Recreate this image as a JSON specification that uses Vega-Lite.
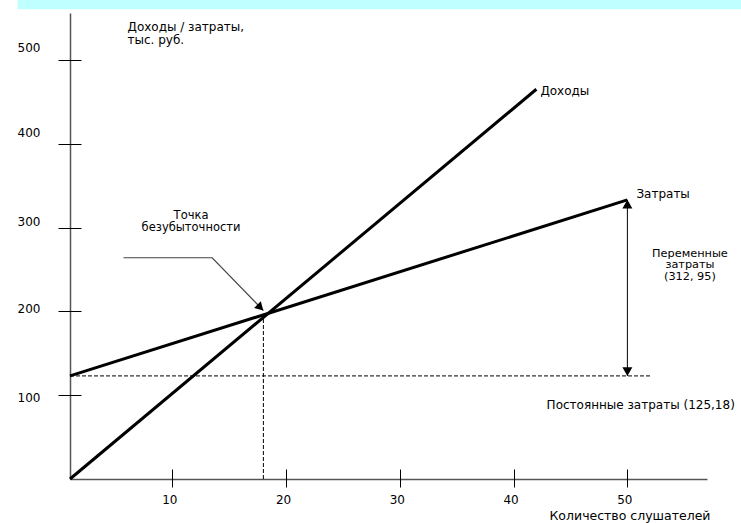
{
  "$schema": "https://vega.github.io/schema/vega-lite/v6.json",
  "width": 637,
  "height": 466,
  "autosize": {"type": "none"},
  "padding": {"left": 70, "top": 13, "right": 34, "bottom": 44},
  "background": "white",
  "config": {
    "font": "DejaVu Sans",
    "view": {"stroke": null},
    "axis": {"grid": false, "labelColor": "black", "titleColor": "black", "titleFontWeight": "normal", "labelFont": "DejaVu Sans", "titleFont": "DejaVu Sans", "labelFlush": false}
  },
  "datasets": {
    "band": [{"x": -3.6, "x2": 61, "y": 560.4, "y2": 572}],
    "lines": [
      {"series": "Доходы", "x": 1, "y": 0},
      {"series": "Доходы", "x": 42, "y": 465},
      {"series": "Затраты", "x": 1, "y": 123},
      {"series": "Затраты", "x": 50, "y": 333}
    ],
    "dashed": [
      {"id": "fixed", "o": 1, "x": 1, "y": 123},
      {"id": "fixed", "o": 2, "x": 52, "y": 123},
      {"id": "breakeven", "o": 1, "x": 18, "y": 0},
      {"id": "breakeven", "o": 2, "x": 18, "y": 197}
    ],
    "leader": [
      {"x": 5.7, "y": 264},
      {"x": 13.5, "y": 264},
      {"x": 18, "y": 201}
    ],
    "arrow": [{"x": 50, "y": 123, "y2": 333}]
  },
  "encoding": {
    "x": {"field": "x", "type": "quantitative", "scale": {"domain": [1, 57], "nice": false, "zero": false}, "axis": null},
    "y": {"field": "y", "type": "quantitative", "scale": {"domain": [0, 556], "nice": false, "zero": false}, "axis": null}
  },
  "layer": [
    {
      "data": {"name": "band"},
      "mark": {"type": "rect", "color": "#c0ffff", "clip": false, "opacity": 1},
      "encoding": {
        "x2": {"field": "x2"},
        "y2": {"field": "y2"}
      }
    },
    {
      "data": {"name": "lines"},
      "mark": {"type": "line", "color": "black", "strokeWidth": 3},
      "encoding": {
        "x": {
          "field": "x", "type": "quantitative",
          "scale": {"domain": [1, 57], "nice": false, "zero": false},
          "axis": {"orient": "bottom", "domain": true, "domainColor": "#555", "domainWidth": 1.5, "ticks": false, "labels": false,
                   "title": "Количество слушателей", "titleX": 640, "titleY": 36, "titleAlign": "right", "titleBaseline": "middle", "titleFontSize": 12.5}
        },
        "y": {
          "field": "y", "type": "quantitative",
          "scale": {"domain": [0, 556], "nice": false, "zero": false},
          "axis": {"orient": "left", "domain": true, "domainColor": "#555", "domainWidth": 1.5, "ticks": false, "labels": false,
                   "title": ["Доходы / затраты,", "тыс. руб."], "titleAngle": 0, "titleAlign": "left", "titleBaseline": "top", "titleX": 57, "titleY": 8, "titleFontSize": 12, "titleLineHeight": 13}
        },
        "detail": {"field": "series"}
      }
    },
    {
      "data": {"name": "leader"},
      "mark": {"type": "line", "color": "#444", "strokeWidth": 1.2}
    },
    {
      "data": {"values": [{"x": 18, "y": 201}]},
      "mark": {"type": "point", "shape": "triangle-up", "angle": 135, "size": 90, "filled": true, "color": "black", "opacity": 1, "xOffset": -3, "yOffset": -3}
    },
    {
      "data": {"name": "arrow"},
      "mark": {"type": "rule", "color": "black", "strokeWidth": 1},
      "encoding": {"y2": {"field": "y2"}}
    },
    {
      "data": {"values": [{"x": 50, "y": 333}]},
      "mark": {"type": "point", "shape": "triangle-up", "size": 100, "filled": true, "color": "black", "opacity": 1, "yOffset": 4.3}
    },
    {
      "data": {"values": [{"x": 50, "y": 123}]},
      "mark": {"type": "point", "shape": "triangle-down", "size": 100, "filled": true, "color": "black", "opacity": 1, "yOffset": -4.3}
    },
    {
      "data": {"values": [{"x": 42, "y": 465, "t": "Доходы"}]},
      "mark": {"type": "text", "align": "left", "baseline": "middle", "dx": 4, "dy": 2, "fontSize": 12, "color": "black"},
      "encoding": {"text": {"field": "t"}}
    },
    {
      "data": {"values": [{"x": 50, "y": 333, "t": "Затраты"}]},
      "mark": {"type": "text", "align": "left", "baseline": "middle", "dx": 9, "dy": -6, "fontSize": 12, "color": "black"},
      "encoding": {"text": {"field": "t"}}
    },
    {
      "data": {"values": [{"x": 55.5, "y": 269, "t": "Переменные\nзатраты\n(312, 95)"}]},
      "mark": {"type": "text", "align": "center", "baseline": "middle", "lineBreak": "\n", "lineHeight": 11.6, "fontSize": 11.3, "color": "black"},
      "encoding": {"text": {"field": "t"}}
    },
    {
      "data": {"values": [{"x": 11.64, "y": 314, "t": "Точка\nбезубыточности"}]},
      "mark": {"type": "text", "align": "center", "baseline": "middle", "lineBreak": "\n", "lineHeight": 12.5, "fontSize": 11.5, "color": "black"},
      "encoding": {"text": {"field": "t"}}
    },
    {
      "data": {"values": [{"x": 42.9, "y": 87.8, "t": "Постоянные затраты (125,18)"}]},
      "mark": {"type": "text", "align": "left", "baseline": "middle", "fontSize": 12, "color": "black"},
      "encoding": {"text": {"field": "t"}}
    },
    {
      "data": {"name": "dashed"},
      "mark": {"type": "line", "color": "black", "strokeWidth": 1, "strokeDash": [4, 2]},
      "encoding": {
        "x": {
          "field": "x", "type": "quantitative",
          "scale": {"domain": [1, 57], "nice": false, "zero": false},
          "axis": {"orient": "bottom", "offset": -10, "domain": false, "ticks": true, "tickSize": 18, "tickColor": "black", "tickWidth": 1,
                   "values": [10, 20, 30, 40, 50], "labelFontSize": 12, "labelPadding": 7, "labelBaseline": "top", "labelOffset": -3, "title": null}
        },
        "y": {
          "field": "y", "type": "quantitative",
          "scale": {"domain": [0, 556], "nice": false, "zero": false},
          "axis": {"orient": "left", "offset": -11, "domain": false, "ticks": true, "tickSize": 23, "tickColor": "black", "tickWidth": 1,
                   "values": [100, 200, 300, 400, 500], "labelFontSize": 12, "labelPadding": 18, "labelAlign": "right", "labelBaseline": "middle",
                   "labelOffset": {"condition": [
                     {"test": "datum.value === 500", "value": -12},
                     {"test": "datum.value === 400", "value": -11},
                     {"test": "datum.value === 300", "value": -6},
                     {"test": "datum.value === 200", "value": -3}
                   ], "value": 2},
                   "title": null}
        },
        "detail": {"field": "id"},
        "order": {"field": "o"}
      }
    }
  ],
  "resolve": {"axis": {"x": "independent", "y": "independent"}}
}
